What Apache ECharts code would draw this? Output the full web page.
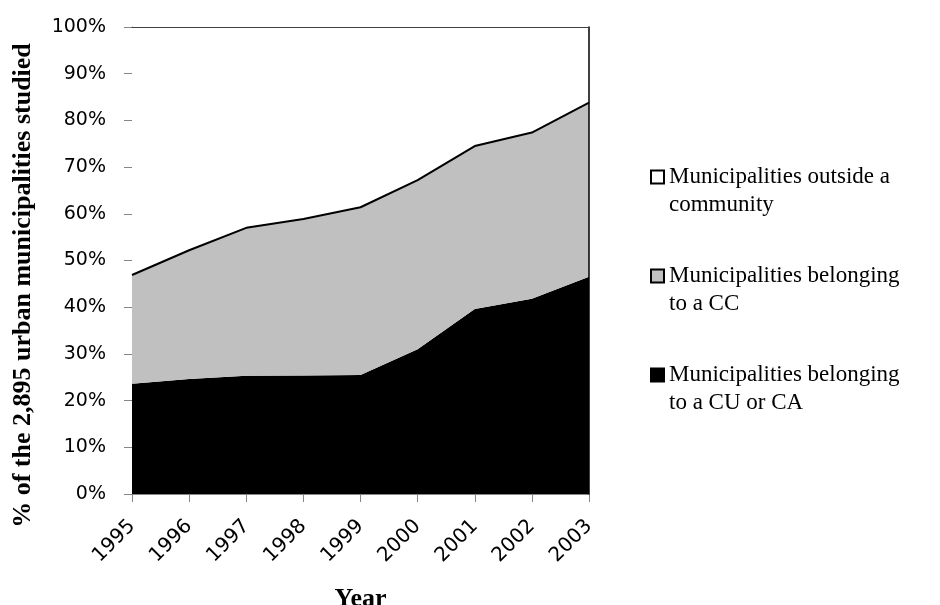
<!DOCTYPE html>
<html>
<head>
<meta charset="utf-8">
<script src="https://cdn.jsdelivr.net/npm/echarts@6/dist/echarts.min.js"></script>
<style>html,body{margin:0;padding:0;background:#fff}#c{width:940px;height:605px}</style>
</head>
<body>
<div id="c"></div>
<script>
var years = ['1995','1996','1997','1998','1999','2000','2001','2002','2003'];
var cuCa = [23.6, 24.6, 25.3, 25.4, 25.5, 31.0, 39.6, 41.8, 46.5];
var cc = [23.3, 27.6, 31.7, 33.5, 35.9, 36.2, 34.9, 35.6, 37.3];
var outside = [53.1, 47.8, 43.0, 41.1, 38.6, 32.8, 25.5, 22.6, 16.2];
var names = ['Municipalities outside a\ncommunity', 'Municipalities belonging\nto a CC', 'Municipalities belonging\nto a CU or CA'];

var chart = echarts.init(document.getElementById('c'), null, {renderer: 'canvas'});
var tickFont = 'DejaVu Sans';
var serif = 'Liberation Serif';
chart.setOption({
  animation: false,
  backgroundColor: '#fff',
  grid: {left: 132, right: 351, top: 27, bottom: 111, show: false, outerBoundsMode: 'none', containLabel: false},
  legend: {
    orient: 'vertical', left: 645, top: 130,
    itemWidth: 13, itemHeight: 13, itemGap: 15,
    icon: 'rect',
    data: [names[0], names[1], names[2]],
    formatter: function (n) { return '\u00a0\n' + n; },
    textStyle: {fontFamily: serif, fontSize: 23, lineHeight: 28, color: '#000'}
  },
  xAxis: [{
    type: 'category', data: years, boundaryGap: false,
    name: 'Year', nameLocation: 'middle', nameGap: 92,
    nameTextStyle: {fontFamily: serif, fontSize: 26, fontWeight: 'bold', color: '#000'},
    axisLine: {onZero: false, lineStyle: {color: '#868686'}},
    axisTick: {show: true, length: 8, lineStyle: {color: '#868686'}},
    axisLabel: {rotate: 45, margin: 29, fontFamily: tickFont, fontSize: 20, color: '#000'}
  }, {
    type: 'category', data: years, boundaryGap: false, position: 'top', z: 3,
    axisLine: {onZero: false, lineStyle: {color: '#404040'}}, axisTick: {show: false}, axisLabel: {show: false}
  }],
  yAxis: [{
    type: 'value', min: 0, max: 100, interval: 10,
    name: '% of the 2,895 urban municipalities studied', nameLocation: 'middle', nameGap: 96, nameRotate: 90,
    nameTextStyle: {fontFamily: serif, fontSize: 26, fontWeight: 'bold', color: '#000', padding: [0, 50, 0, 0]},
    axisLine: {show: true, onZero: false, lineStyle: {color: '#868686'}},
    axisTick: {show: true, length: 8, lineStyle: {color: '#868686'}},
    splitLine: {show: false},
    axisLabel: {margin: 26, fontFamily: tickFont, fontSize: 19, color: '#000', formatter: '{value}%'}
  }, {
    type: 'value', min: 0, max: 100, interval: 10, position: 'right', z: 3,
    axisLine: {show: true, onZero: false, lineStyle: {color: '#000', width: 1.5}},
    axisTick: {show: false}, axisLabel: {show: false}, splitLine: {show: false}
  }],
  series: [{
    name: names[2], type: 'line', stack: 'total', data: cuCa, symbol: 'none',
    itemStyle: {color: '#000', borderColor: '#000', borderWidth: 1},
    lineStyle: {width: 0, color: '#000'},
    areaStyle: {color: '#000', opacity: 1}
  }, {
    name: names[1], type: 'line', stack: 'total', data: cc, symbol: 'none',
    itemStyle: {color: '#c0c0c0', borderColor: '#000', borderWidth: 1},
    lineStyle: {width: 2, color: '#000'},
    areaStyle: {color: '#c0c0c0', opacity: 1}
  }, {
    name: names[0], type: 'line', stack: 'total', data: outside, symbol: 'none',
    itemStyle: {color: '#fff', borderColor: '#000', borderWidth: 1},
    lineStyle: {width: 0, color: '#000'},
    areaStyle: {color: '#fff', opacity: 1}
  }]
});
</script>
</body>
</html>
